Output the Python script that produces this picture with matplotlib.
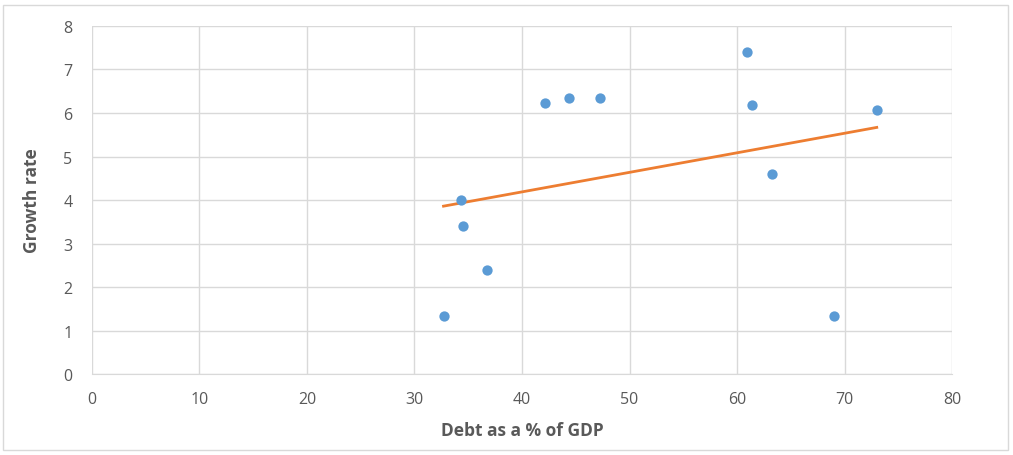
import numpy as np
import matplotlib.pyplot as plt

# debt ratio vs growth
debt = [32.7, 34.3, 34.5, 36.7, 42.1, 44.4, 47.3, 60.9, 61.4, 63.3, 69.0, 73.0]
growth = [1.33, 4.0, 3.4, 2.39, 6.23, 6.34, 6.34, 7.4, 6.18, 4.6, 1.33, 6.07]

plt.rcParams['font.family'] = ['Liberation Sans Narrow', 'Open Sans', 'DejaVu Sans']

fig = plt.figure(figsize=(10.13, 4.56), dpi=100)
ax = fig.add_axes([0.0908, 0.1776, 0.849, 0.7632])

# outer chart frame
fig.patches.append(plt.Rectangle((0.003, 0.012), 0.992, 0.975, transform=fig.transFigure,
                                 fill=False, edgecolor='#d9d9d9', linewidth=1))

ax.scatter(debt, growth, s=55, color='#5b9bd5', zorder=3, linewidths=0)

# linear trendline
slope, icpt = np.polyfit(debt, growth, 1)
xs = np.array([min(debt), max(debt)])
ax.plot(xs, slope * xs + icpt, color='#ed7d31', linewidth=2, zorder=2)

ax.set_xlim(0, 80)
ax.set_ylim(0, 8)
ax.set_xticks(range(0, 81, 10))
ax.set_yticks(range(0, 9))
ax.grid(True, color='#d9d9d9', linewidth=1)
ax.set_axisbelow(True)
for s in ['top', 'right', 'left']:
    ax.spines[s].set_visible(False)
ax.spines['bottom'].set_color('#d9d9d9')
ax.tick_params(axis='y', length=0, labelsize=11.5, colors='#595959', pad=14)
ax.tick_params(axis='x', length=0, labelsize=11.5, colors='#595959', pad=12)

ax.set_xlabel('Debt as a % of GDP', fontsize=12.5, fontweight='bold', color='#595959', labelpad=10)
ax.set_ylabel('Growth rate', fontsize=12.5, fontweight='bold', color='#595959', labelpad=16)

fig.savefig('out.png', dpi=100)
